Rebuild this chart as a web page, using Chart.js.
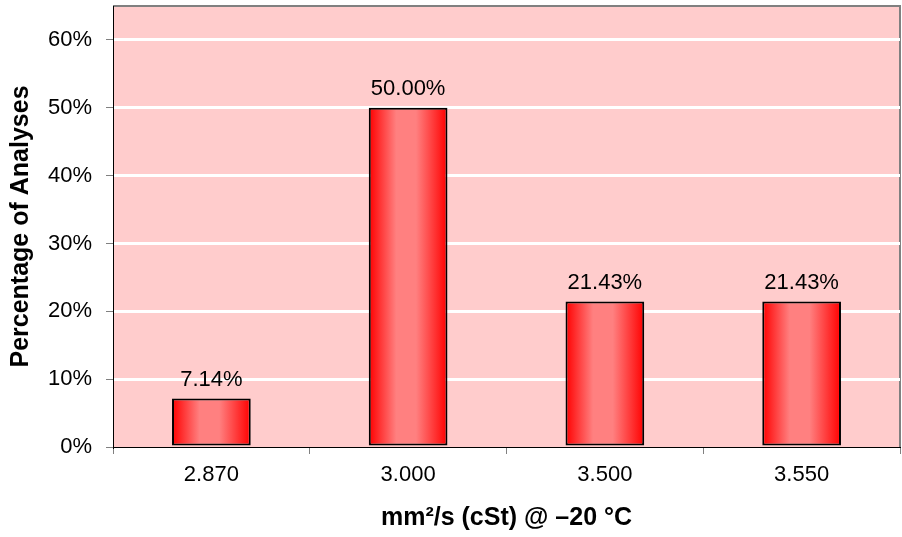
<!DOCTYPE html>
<html>
<head>
<meta charset="utf-8">
<script src="https://cdn.jsdelivr.net/npm/chart.js@4.4.0/dist/chart.umd.min.js"></script>
<style>
  html, body { margin: 0; padding: 0; background: #fff; }
  #wrap { width: 902px; height: 537px; position: relative; }
</style>
</head>
<body>
<div id="wrap"><canvas id="viscChart"></canvas></div>
<script>
// Distribución de viscosidad a -20 °C
const categories = ["2.870", "3.000", "3.500", "3.550"];
const percentValues = [7.14, 50.00, 21.43, 21.43];
const yAxisMax = 65;
const yTickStep = 10;
const yLastTick = 60;

const FONT = "'Liberation Sans', Arial, sans-serif";

function barGradient(ctx) {
  const chart = ctx.chart;
  const xs = chart.scales.x;
  if (!chart.chartArea || !xs || ctx.dataIndex === undefined) return "#ff3030";
  const cx = xs.getPixelForValue(ctx.dataIndex);
  const half = (chart.chartArea.width / categories.length) * 0.4 / 2;
  const g = chart.ctx.createLinearGradient(cx - half, 0, cx + half, 0);
  g.addColorStop(0, "#ff0000");
  g.addColorStop(0.35, "#ff8080");
  g.addColorStop(0.6, "#ff8080");
  g.addColorStop(1, "#ff0000");
  return g;
}

// Fondo rosado y marco gris del área de trazado
const plotBg = {
  id: "plotBg",
  beforeDraw(chart) {
    const { ctx, chartArea: a } = chart;
    ctx.save();
    ctx.fillStyle = "#ffcccc";
    ctx.fillRect(a.left, a.top, a.width, a.height);
    ctx.strokeStyle = "#808080";
    ctx.lineWidth = 2;
    ctx.beginPath();
    ctx.moveTo(a.left, a.top);
    ctx.lineTo(a.right, a.top);
    ctx.lineTo(a.right, a.bottom);
    ctx.stroke();
    ctx.restore();
  }
};

// Etiquetas de valor sobre cada barra
const valueLabels = {
  id: "valueLabels",
  afterDatasetsDraw(chart) {
    const { ctx } = chart;
    const meta = chart.getDatasetMeta(0);
    ctx.save();
    ctx.fillStyle = "#000";
    ctx.font = "22px " + FONT;
    ctx.textAlign = "center";
    ctx.textBaseline = "bottom";
    meta.data.forEach((bar, i) => {
      ctx.fillText(percentValues[i].toFixed(2) + "%", bar.x, bar.y - 8);
    });
    ctx.restore();
  }
};

new Chart(document.getElementById("viscChart"), {
  type: "bar",
  data: {
    labels: categories,
    datasets: [{
      data: percentValues,
      backgroundColor: barGradient,
      borderColor: "#000",
      borderWidth: 2,
      borderSkipped: false,
      barPercentage: 0.4,
      categoryPercentage: 1
    }]
  },
  options: {
    responsive: true,
    maintainAspectRatio: false,
    animation: false,
    layout: { padding: { top: 6, right: 2, left: 0, bottom: 0 } },
    plugins: { legend: { display: false }, tooltip: { enabled: false } },
    scales: {
      x: {
        grid: { offset: true, drawOnChartArea: false, drawTicks: true, tickLength: 7, tickColor: "#808080" },
        border: { color: "#000", width: 1 },
        ticks: { color: "#000", font: { family: FONT, size: 22 }, padding: 8 },
        title: { display: true, text: "mm²/s (cSt) @ –20 °C", color: "#000", font: { family: FONT, size: 25, weight: "bold" }, padding: { top: 18 } },
        afterFit(scale) {
          scale.height = 90;
          scale.paddingLeft = 0;
          scale.paddingRight = 0;
        }
      },
      y: {
        min: 0,
        max: yAxisMax,
        afterBuildTicks(scale) {
          scale.ticks = scale.ticks.filter(t => t.value <= yLastTick);
        },
        ticks: {
          stepSize: yTickStep,
          color: "#000",
          font: { family: FONT, size: 22 },
          padding: 14,
          callback: (v) => v + "%"
        },
        grid: {
          color: (c) => (c.tick && c.tick.value === 0 ? "rgba(0,0,0,0)" : "#ffffff"),
          lineWidth: 3,
          tickLength: 7,
          tickColor: "#808080",
          tickWidth: 1
        },
        border: { color: "#000", width: 1 },
        title: { display: true, text: "Percentage of Analyses", color: "#000", font: { family: FONT, size: 25, weight: "bold" }, padding: { top: 6, bottom: 4 } },
        afterFit(scale) {
          scale.width = 113;
          scale.paddingTop = 0;
          scale.paddingBottom = 0;
        }
      }
    }
  },
  plugins: [plotBg, valueLabels]
});
</script>
</body>
</html>
